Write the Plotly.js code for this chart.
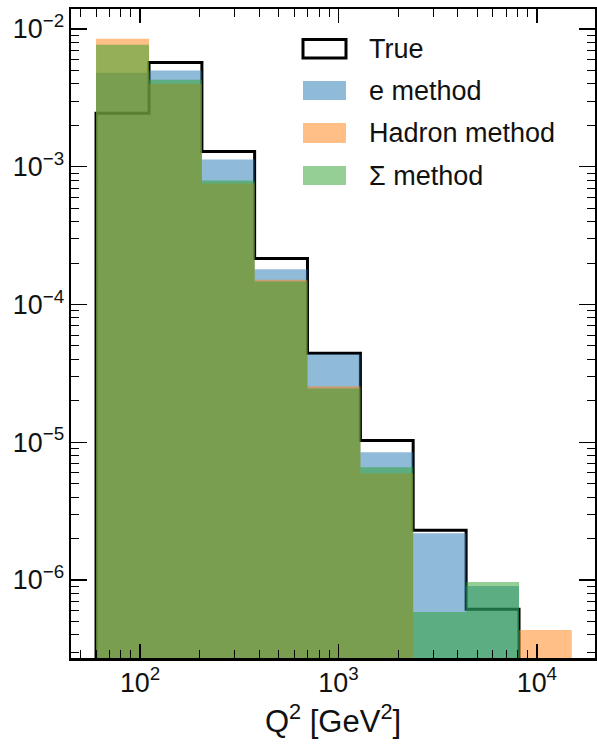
<!DOCTYPE html>
<html>
<head>
<meta charset="utf-8">
<script src="https://cdn.plot.ly/plotly-3.0.1.min.js"></script>
<style>html,body{margin:0;padding:0;background:#fff;}#chart{width:597px;height:745px;}</style>
</head>
<body>
<div id="chart"></div>
<script>
// Bin edges of Q^2 [GeV^2] (log-spaced)
const binEdges = [60, 111, 205, 378, 698, 1290, 2380, 4400, 8130, 15000];
// Normalised counts per bin
const trueValues   = [2.45e-3, 5.70e-3, 1.29e-3, 2.16e-4, 4.42e-5, 1.03e-5, 2.30e-6, 6.14e-7, 0];
const eMethod      = [4.82e-3, 4.99e-3, 1.13e-3, 1.80e-4, 4.35e-5, 8.47e-6, 2.19e-6, 9.04e-7, 0];
const hadronMethod = [8.50e-3, 4.01e-3, 7.55e-4, 1.51e-4, 2.55e-5, 5.96e-6, 0, 0, 4.33e-7];
const sigmaMethod  = [7.69e-3, 4.28e-3, 7.94e-4, 1.47e-4, 2.46e-5, 6.59e-6, 5.85e-7, 9.66e-7, 0];

const seriesNames = ['True', 'e method', 'Hadron method', '\u03A3 method'];
const xTitle = 'Q<sup>2</sup> [GeV<sup>2</sup>]';

const FLOOR = 1e-9;
function stepPath(edges, vals) {
  const xs = [edges[0]], ys = [FLOOR];
  for (let i = 0; i < vals.length; i++) {
    const v = vals[i] > 0 ? vals[i] : FLOOR;
    xs.push(edges[i], edges[i + 1]);
    ys.push(v, v);
  }
  xs.push(edges[edges.length - 1]);
  ys.push(FLOOR);
  return {x: xs, y: ys};
}

const FONT = 'Liberation Sans, Arial, Helvetica, sans-serif';
const fills = ['rgba(31,119,180,0.5)', 'rgba(255,127,14,0.5)', 'rgba(44,160,44,0.5)'];

const tp = stepPath(binEdges, trueValues);
const traces = [
  {type: 'scatter', mode: 'lines', x: tp.x, y: tp.y, name: seriesNames[0],
   line: {color: 'black', width: 3, shape: 'linear'}, hoverinfo: 'skip', showlegend: false}
];
[eMethod, hadronMethod, sigmaMethod].forEach((vals, k) => {
  const p = stepPath(binEdges, vals);
  traces.push({type: 'scatter', mode: 'lines', x: p.x, y: p.y, name: seriesNames[k + 1],
    fill: 'toself', fillcolor: fills[k], line: {width: 0, color: fills[k]},
    hoverinfo: 'skip', showlegend: false});
});

// Layout geometry (pixel positions of plot area)
const L = 71, R = 595, T = 9, B = 658;
const px = v => (v - L) / (R - L);
const py = v => (B - v) / (B - T);

const legendRows = [
  {y0: 39.5, y1: 58, fill: 'rgba(0,0,0,0)', line: {color: 'black', width: 3}, ty: 49},
  {y0: 81, y1: 100, fill: fills[0], line: {width: 0}, ty: 91},
  {y0: 123, y1: 143, fill: fills[1], line: {width: 0}, ty: 133},
  {y0: 166, y1: 185, fill: fills[2], line: {width: 0}, ty: 176}
];
const shapes = [], annotations = [];
legendRows.forEach((r, i) => {
  shapes.push({type: 'rect', xref: 'paper', yref: 'paper',
    x0: px(303), x1: px(346), y0: py(r.y1), y1: py(r.y0),
    fillcolor: r.fill, line: r.line});
  annotations.push({xref: 'paper', yref: 'paper', x: px(367), y: py(r.ty),
    xanchor: 'left', yanchor: 'middle', showarrow: false, text: seriesNames[i],
    font: {family: FONT, size: 27, color: '#111'}});
});

const axisCommon = {
  type: 'log', showgrid: false, zeroline: false,
  showline: true, linecolor: 'black', linewidth: 2.5, mirror: 'allticks',
  ticks: 'inside', tickcolor: 'black', tickwidth: 1.5,
  tickmode: 'linear', tick0: 0, dtick: 1, exponentformat: 'power',
  tickfont: {family: FONT, size: 21.5, color: '#111'},
  minor: {ticks: 'inside', ticklen: 8, tickwidth: 1, tickcolor: 'black', dtick: 'D1', showgrid: false}
};

const layout = {
  width: 597, height: 745,
  margin: {l: L, r: 597 - R, t: T, b: 745 - B, pad: 0},
  paper_bgcolor: 'white', plot_bgcolor: 'white',
  showlegend: false, hovermode: false,
  xaxis: Object.assign({}, axisCommon, {
    range: [1.652, 4.293], ticklen: 14,
    title: {text: xTitle, font: {family: FONT, size: 31, color: '#111'}, standoff: 14}
  }),
  yaxis: Object.assign({}, axisCommon, {
    range: [-6.566, -1.855], ticklen: 16
  }),
  shapes: shapes,
  annotations: annotations
};

Plotly.newPlot('chart', traces, layout, {displayModeBar: false, staticPlot: true});
</script>
</body>
</html>
